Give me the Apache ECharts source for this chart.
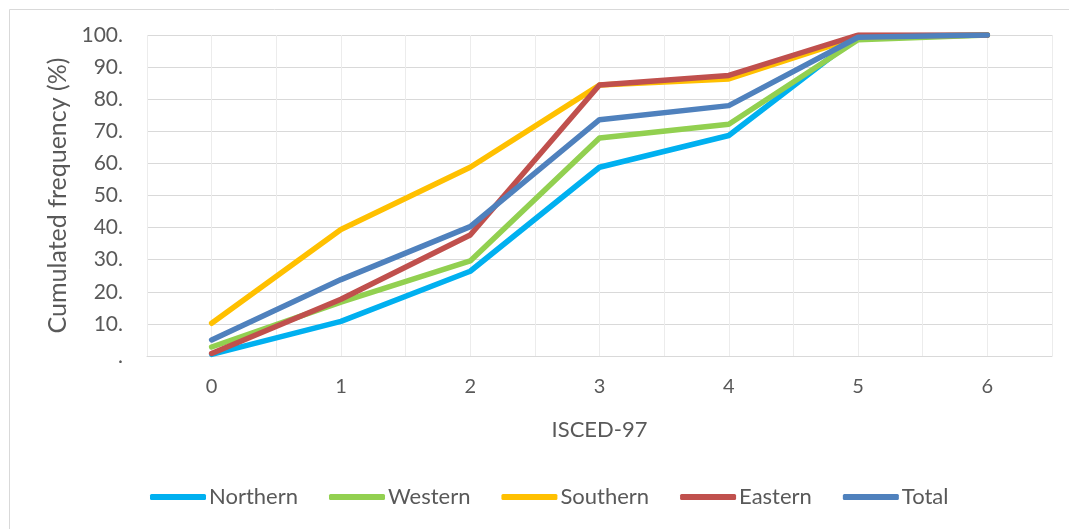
<!DOCTYPE html>
<html>
<head>
<meta charset="utf-8">
<script src="https://cdn.jsdelivr.net/npm/echarts@6/dist/echarts.min.js"></script>
<style>
  html, body { margin: 0; padding: 0; background: #fff; }
  #chart { width: 1069px; height: 529px; }
</style>
</head>
<body>
<div id="chart"></div>
<script>
// ISCED-97 levels on the horizontal axis
const categories = [0, 1, 2, 3, 4, 5, 6];

// Cumulated frequency (%) per region
const northern = [0.5, 10.8, 26.4, 58.8, 68.7, 99.6, 100];
const western  = [2.8, 16.8, 29.6, 67.9, 72.2, 98.5, 100];
const southern = [10.2, 39.4, 58.8, 84.4, 86.3, 99.4, 100];
const eastern  = [0.8, 17.7, 37.7, 84.4, 87.4, 100, 100];
const total    = [5.0, 23.8, 40.3, 73.6, 78.0, 99.3, 100];

const seriesNames = ['Northern', 'Western', 'Southern', 'Eastern', 'Total'];
const seriesData = [northern, western, southern, eastern, total];
const seriesColors = ['#00B0F0', '#92D050', '#FFC000', '#C0504D', '#4F81BD'];

// y-axis ticks: 0 is shown as a lone "."
const yTicks = [0, 10, 20, 30, 40, 50, 60, 70, 80, 90, 100];

const FONT = 'Lato, "Open Sans", sans-serif';
const TXT = '#595959';

const chart = echarts.init(document.getElementById('chart'), null, { renderer: 'canvas' });

chart.setOption({
  animation: false,
  backgroundColor: '#ffffff',
  graphic: [{
    type: 'rect',
    left: 7, top: 7,
    shape: { width: 1100, height: 560 },
    style: { fill: 'none', stroke: '#d9d9d9', lineWidth: 1 },
    silent: true
  }],
  grid: { left: 147, right: 17, top: 35, bottom: 173, containLabel: false },
  legend: {
    data: seriesNames,
    left: 145,
    top: 481,
    icon: 'roundRect',
    itemWidth: 56,
    itemHeight: 6,
    itemGap: 31,
    textStyle: { color: TXT, fontFamily: FONT, fontSize: 22, padding: [0, 0, 0, -2] }
  },
  xAxis: {
    type: 'value',
    min: -0.5,
    max: 6.5,
    interval: 0.5,
    name: 'ISCED-97',
    nameLocation: 'middle',
    nameGap: 63,
    nameTextStyle: { color: TXT, fontFamily: FONT, fontSize: 22 },
    axisLine: { show: true, lineStyle: { color: '#d9d9d9', width: 1 } },
    axisTick: { show: false },
    axisLabel: {
      color: TXT, fontFamily: FONT, fontSize: 20, margin: 21,
      formatter: v => (categories.indexOf(v) >= 0 ? String(v) : '')
    },
    splitLine: { show: true, lineStyle: { color: '#ececec', width: 1 } }
  },
  yAxis: {
    type: 'value',
    min: yTicks[0],
    max: yTicks[yTicks.length - 1],
    interval: 10,
    name: 'Cumulated frequency (%)',
    nameLocation: 'middle',
    nameGap: 75,
    nameTextStyle: { color: TXT, fontFamily: FONT, fontSize: 25 },
    axisLine: { show: false },
    axisTick: { show: false },
    axisLabel: {
      color: TXT, fontFamily: FONT, fontSize: 21, margin: 24,
      formatter: v => (v === 0 ? '.' : v + '.')
    },
    splitLine: { show: true, lineStyle: { color: '#d9d9d9', width: 1 } }
  },
  series: seriesNames.map((name, i) => ({
    name: name,
    type: 'line',
    data: categories.map((c, j) => [c, seriesData[i][j]]),
    showSymbol: false,
    symbol: 'none',
    lineStyle: { color: seriesColors[i], width: 5.5, cap: 'round', join: 'round' },
    itemStyle: { color: seriesColors[i] }
  }))
});
</script>
</body>
</html>
